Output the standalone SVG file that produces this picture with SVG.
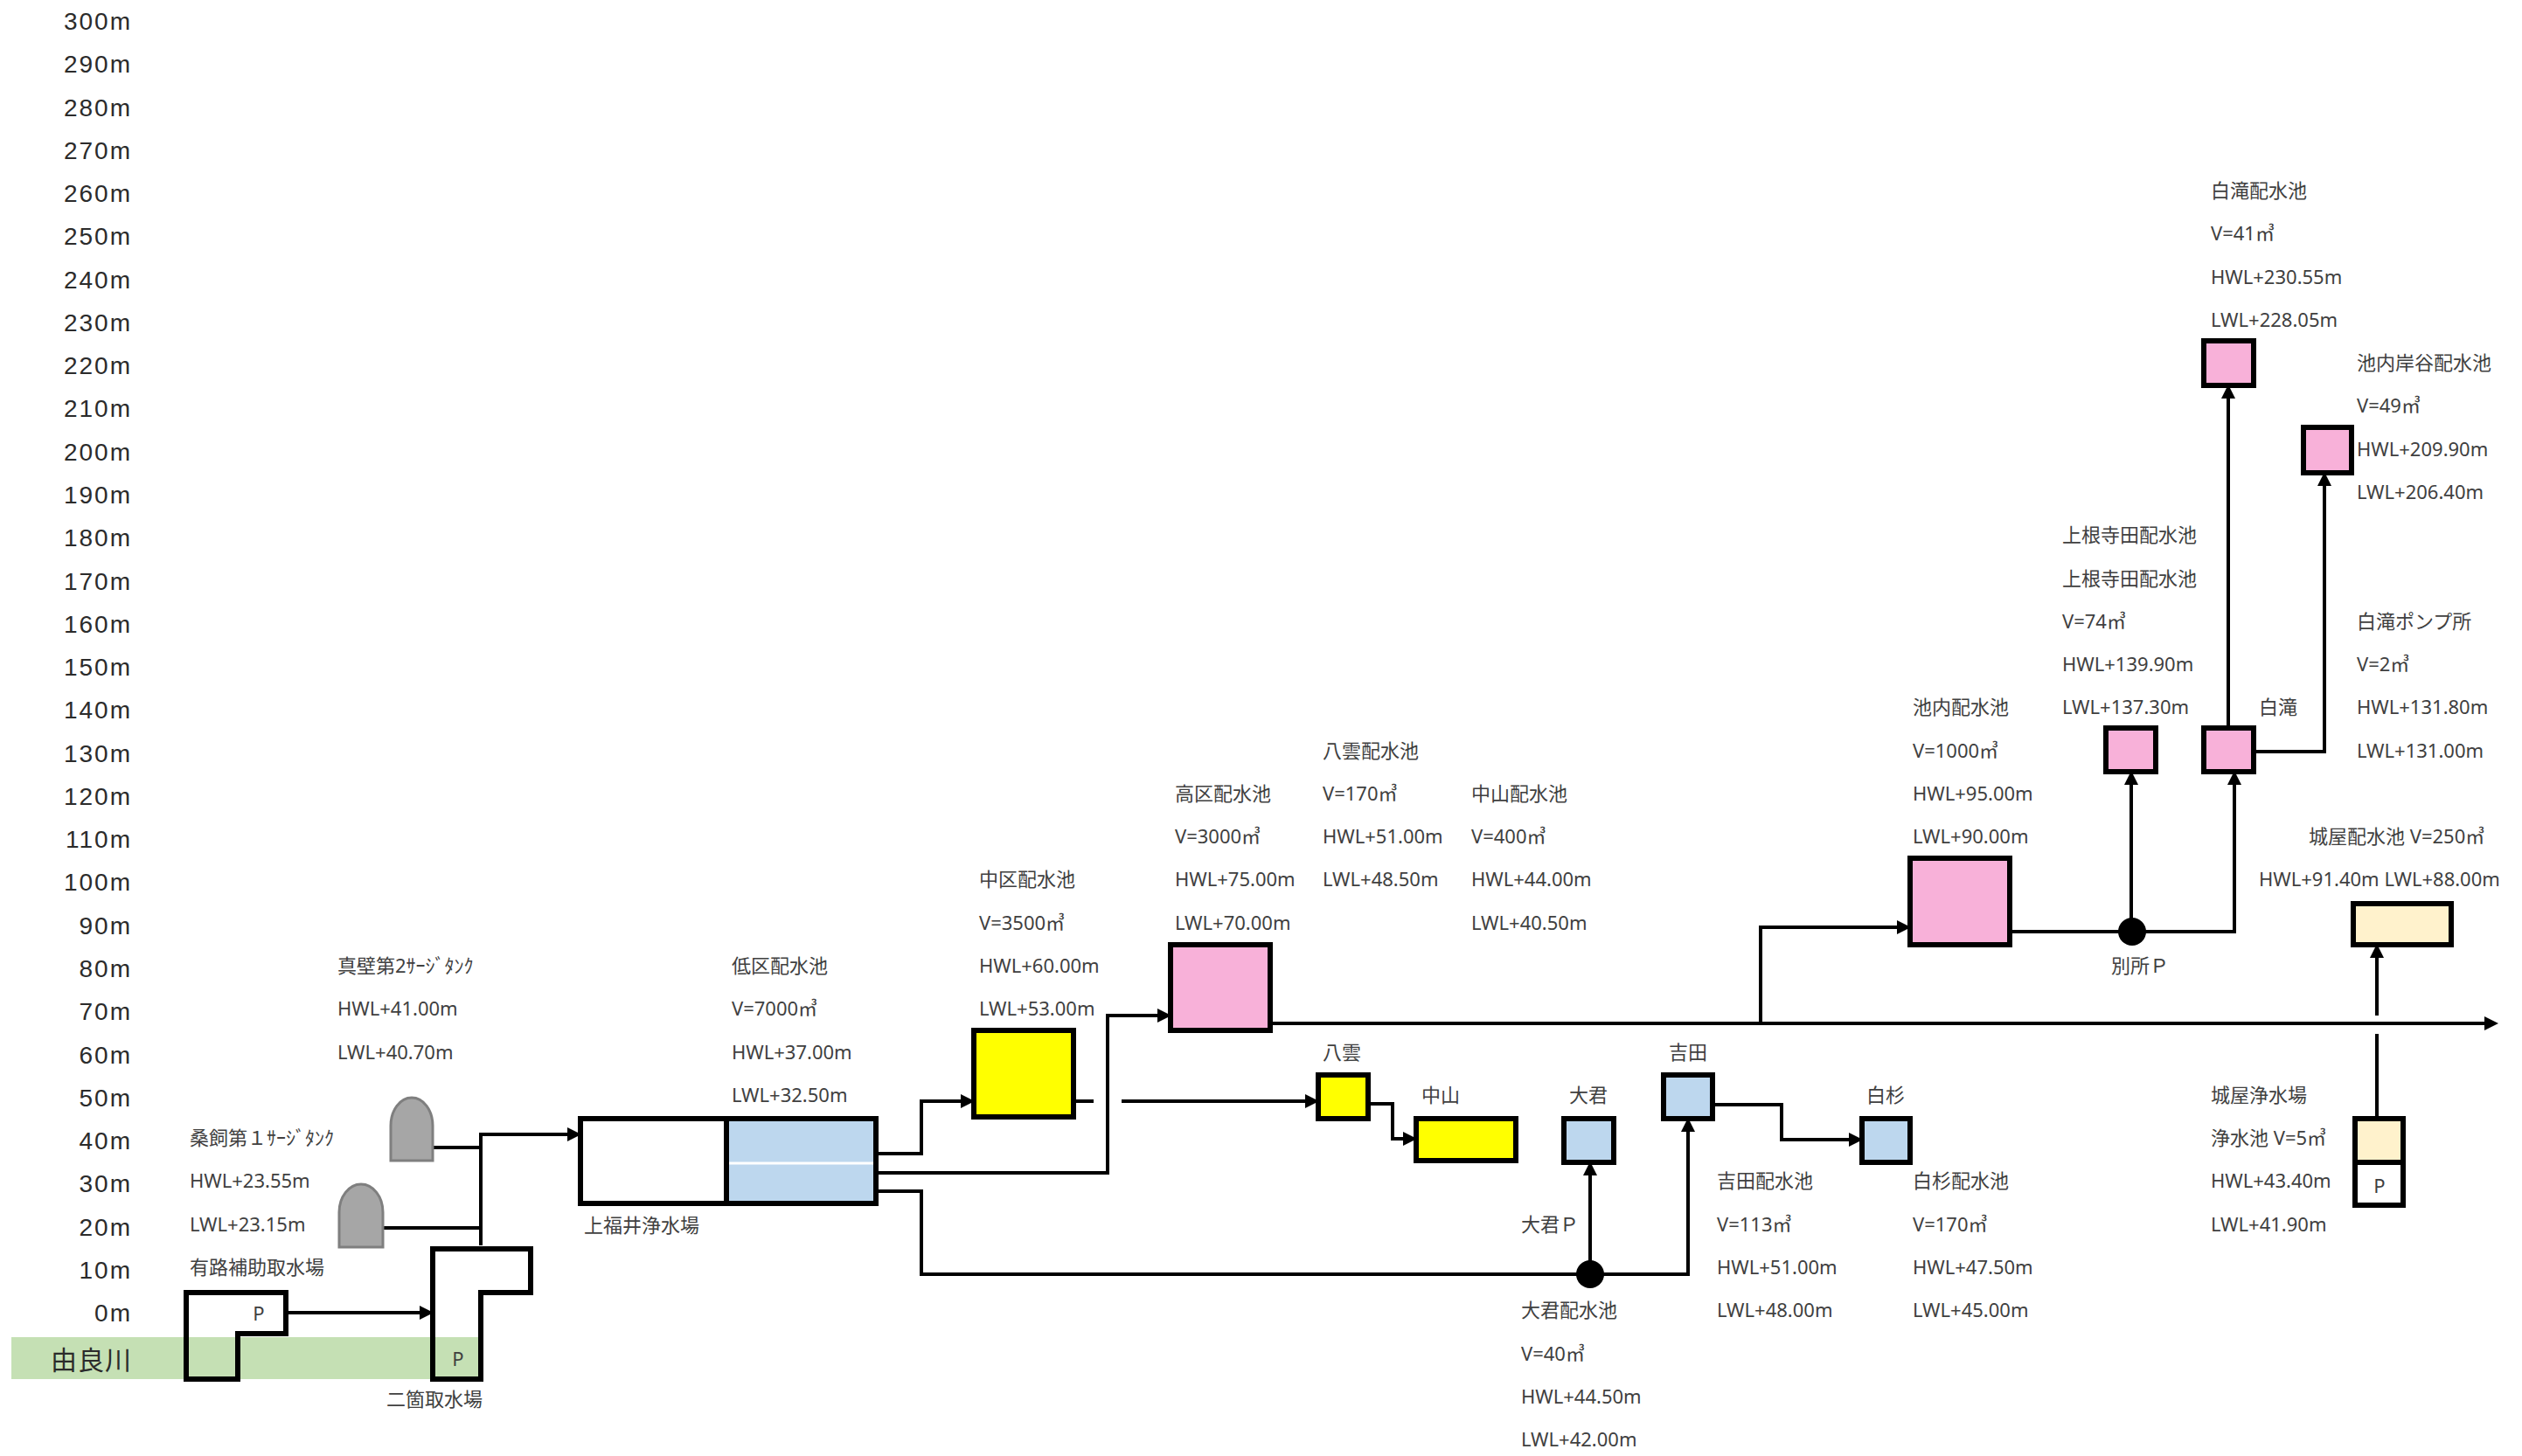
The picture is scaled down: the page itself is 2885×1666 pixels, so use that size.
<svg xmlns="http://www.w3.org/2000/svg" width="2885" height="1666" viewBox="0 0 2885 1666">
<style>
.ax{font-family:"Liberation Sans","Noto Sans",sans-serif;font-size:28px;fill:#2b2b2b;text-anchor:end;dominant-baseline:central;letter-spacing:2px}
.t{font-family:"Noto Sans","Noto Sans CJK JP",sans-serif;font-size:22px;fill:#404040;dominant-baseline:central}
.c{text-anchor:middle}
.bx{stroke:#000;stroke-width:6}
.pk{fill:#F8B1D9}.ye{fill:#FFFF00}.bl{fill:#BDD7EE}.cr{fill:#FFF2CC}.wh{fill:#FFFFFF}
.tank{fill:#A6A6A6;stroke:#7F7F7F;stroke-width:3}
.ln{fill:none;stroke:#000;stroke-width:4}
.ar{marker-end:url(#ah)}
</style>
<defs>
<marker id="ah" viewBox="0 0 10 10" refX="7.5" refY="5" markerWidth="16" markerHeight="16" markerUnits="userSpaceOnUse" orient="auto"><path d="M0,0L10,5L0,10z" fill="#000"/></marker>
</defs>
<rect width="2885" height="1666" fill="#FFFFFF"/>
<g id="axis">
<text class="ax" x="151" y="24">300m</text>
<text class="ax" x="151" y="73">290m</text>
<text class="ax" x="151" y="123">280m</text>
<text class="ax" x="151" y="172">270m</text>
<text class="ax" x="151" y="221">260m</text>
<text class="ax" x="151" y="270">250m</text>
<text class="ax" x="151" y="320">240m</text>
<text class="ax" x="151" y="369">230m</text>
<text class="ax" x="151" y="418">220m</text>
<text class="ax" x="151" y="467">210m</text>
<text class="ax" x="151" y="517">200m</text>
<text class="ax" x="151" y="566">190m</text>
<text class="ax" x="151" y="615">180m</text>
<text class="ax" x="151" y="665">170m</text>
<text class="ax" x="151" y="714">160m</text>
<text class="ax" x="151" y="763">150m</text>
<text class="ax" x="151" y="812">140m</text>
<text class="ax" x="151" y="862">130m</text>
<text class="ax" x="151" y="911">120m</text>
<text class="ax" x="151" y="960">110m</text>
<text class="ax" x="151" y="1009">100m</text>
<text class="ax" x="151" y="1059">90m</text>
<text class="ax" x="151" y="1108">80m</text>
<text class="ax" x="151" y="1157">70m</text>
<text class="ax" x="151" y="1207">60m</text>
<text class="ax" x="151" y="1256">50m</text>
<text class="ax" x="151" y="1305">40m</text>
<text class="ax" x="151" y="1354">30m</text>
<text class="ax" x="151" y="1404">20m</text>
<text class="ax" x="151" y="1453">10m</text>
<text class="ax" x="151" y="1502">0m</text>
</g>
<g id="river">
<rect x="13" y="1530" width="539" height="48" fill="#C5E0B4"/>
<text class="ax" x="151" y="1554" style="font-family:'Noto Sans CJK JP',sans-serif;font-size:30px;letter-spacing:1px">由良川</text>
</g>
<g id="connectors">
<path class="ln ar" d="M330,1502H492"/>
<path class="ln" d="M495,1313H550"/>
<path class="ln" d="M438,1405H550"/>
<path class="ln ar" d="M550,1425V1298H661"/>
<path class="ln ar" d="M1005,1320H1054V1260H1111"/>
<path class="ln ar" d="M1005,1342H1267V1162H1336"/>
<path class="ln ar" d="M1005,1363H1054V1458H1931V1283"/>
<path class="ln ar" d="M1819,1458V1333"/>
<path class="ln" d="M1231,1260H1251"/>
<path class="ln ar" d="M1283,1260H1505"/>
<path class="ln ar" d="M1568,1263H1593V1303H1617"/>
<path class="ln ar" d="M1962,1264H2038V1304H2127"/>
<path class="ln ar" d="M1456,1171H2854"/>
<path class="ln ar" d="M2014,1171V1061H2182"/>
<path class="ln ar" d="M2302,1066H2556V886"/>
<path class="ln ar" d="M2438,1066V886"/>
<path class="ln ar" d="M2549,830V444"/>
<path class="ln ar" d="M2581,860H2659V544"/>
<path class="ln" d="M2719,1277V1183"/>
<path class="ln ar" d="M2719,1162V1084"/>
<circle cx="1819" cy="1458" r="16" fill="#000"/>
<circle cx="2439" cy="1066" r="16" fill="#000"/>
</g>
<g id="ari">
<path class="bx" fill="none" d="M213,1479H327V1526H272V1578H213Z"/>
<text class="t c" x="296" y="1502">P</text>
<text class="t" x="217" y="1449">有路補助取水場</text>
</g>
<g id="nika">
<path class="bx" fill="none" d="M495,1429H607V1479H550V1578H495Z"/>
<text class="t c" x="524" y="1554">P</text>
<text class="t c" x="497" y="1600">二箇取水場</text>
</g>
<g id="kuwagai">
<path class="tank" d="M388,1427V1387A25,32 0 0 1 438,1387V1427Z"/>
<text class="t" x="217" y="1301">桑飼第１ｻｰｼﾞﾀﾝｸ</text>
<text class="t" x="217" y="1350">HWL+23.55m</text>
<text class="t" x="217" y="1400">LWL+23.15m</text>
</g>
<g id="makabe">
<path class="tank" d="M447,1328V1288A24,32 0 0 1 495,1288V1328Z"/>
<text class="t" x="386" y="1104">真壁第2ｻｰｼﾞﾀﾝｸ</text>
<text class="t" x="386" y="1153">HWL+41.00m</text>
<text class="t" x="386" y="1203">LWL+40.70m</text>
</g>
<g id="kamifukui">
<rect x="664" y="1280" width="338" height="97" class="wh"/>
<rect x="831" y="1280" width="171" height="97" class="bl"/>
<line x1="834" y1="1331" x2="999" y2="1331" stroke="#FFFFFF" stroke-width="3"/>
<line x1="831" y1="1280" x2="831" y2="1377" stroke="#000" stroke-width="6"/>
<rect x="664" y="1280" width="338" height="97" class="bx" fill="none"/>
<text class="t" x="668" y="1401">上福井浄水場</text>
<text class="t" x="837" y="1104">低区配水池</text>
<text class="t" x="837" y="1153">V=7000㎥</text>
<text class="t" x="837" y="1203">HWL+37.00m</text>
<text class="t" x="837" y="1252">LWL+32.50m</text>
</g>
<g id="chuku">
<rect x="1114" y="1179" width="114" height="99" class="bx ye"/>
<text class="t" x="1120" y="1005">中区配水池</text>
<text class="t" x="1120" y="1055">V=3500㎥</text>
<text class="t" x="1120" y="1104">HWL+60.00m</text>
<text class="t" x="1120" y="1153">LWL+53.00m</text>
</g>
<g id="kouku">
<rect x="1339" y="1081" width="114" height="98" class="bx pk"/>
<text class="t" x="1344" y="907">高区配水池</text>
<text class="t" x="1344" y="956">V=3000㎥</text>
<text class="t" x="1344" y="1005">HWL+75.00m</text>
<text class="t" x="1344" y="1055">LWL+70.00m</text>
</g>
<g id="yakumo">
<rect x="1508" y="1230" width="57" height="50" class="bx ye"/>
<text class="t" x="1513" y="1203">八雲</text>
<text class="t" x="1513" y="858">八雲配水池</text>
<text class="t" x="1513" y="907">V=170㎥</text>
<text class="t" x="1513" y="956">HWL+51.00m</text>
<text class="t" x="1513" y="1005">LWL+48.50m</text>
</g>
<g id="nakayama">
<rect x="1620" y="1280" width="114" height="48" class="bx ye"/>
<text class="t" x="1626" y="1252">中山</text>
<text class="t" x="1683" y="907">中山配水池</text>
<text class="t" x="1683" y="956">V=400㎥</text>
<text class="t" x="1683" y="1005">HWL+44.00m</text>
<text class="t" x="1683" y="1055">LWL+40.50m</text>
</g>
<g id="ogimi">
<rect x="1789" y="1280" width="57" height="50" class="bx bl"/>
<text class="t" x="1795" y="1252">大君</text>
<text class="t" x="1740" y="1400">大君Ｐ</text>
<text class="t" x="1740" y="1498">大君配水池</text>
<text class="t" x="1740" y="1548">V=40㎥</text>
<text class="t" x="1740" y="1597">HWL+44.50m</text>
<text class="t" x="1740" y="1646">LWL+42.00m</text>
</g>
<g id="yoshida">
<rect x="1903" y="1230" width="56" height="50" class="bx bl"/>
<text class="t" x="1909" y="1203">吉田</text>
<text class="t" x="1964" y="1350">吉田配水池</text>
<text class="t" x="1964" y="1400">V=113㎥</text>
<text class="t" x="1964" y="1449">HWL+51.00m</text>
<text class="t" x="1964" y="1498">LWL+48.00m</text>
</g>
<g id="shirasugi">
<rect x="2130" y="1280" width="55" height="50" class="bx bl"/>
<text class="t" x="2135" y="1252">白杉</text>
<text class="t" x="2188" y="1350">白杉配水池</text>
<text class="t" x="2188" y="1400">V=170㎥</text>
<text class="t" x="2188" y="1449">HWL+47.50m</text>
<text class="t" x="2188" y="1498">LWL+45.00m</text>
</g>
<g id="ikeuchi">
<rect x="2185" y="982" width="114" height="99" class="bx pk"/>
<text class="t" x="2188" y="808">池内配水池</text>
<text class="t" x="2188" y="858">V=1000㎥</text>
<text class="t" x="2188" y="907">HWL+95.00m</text>
<text class="t" x="2188" y="956">LWL+90.00m</text>
</g>
<g id="bessho">
<text class="t" x="2415" y="1104">別所Ｐ</text>
</g>
<g id="kaminejida">
<rect x="2409" y="833" width="57" height="50" class="bx pk"/>
<text class="t" x="2359" y="611">上根寺田配水池</text>
<text class="t" x="2359" y="661">上根寺田配水池</text>
<text class="t" x="2359" y="710">V=74㎥</text>
<text class="t" x="2359" y="759">HWL+139.90m</text>
<text class="t" x="2359" y="808">LWL+137.30m</text>
</g>
<g id="shirataki">
<rect x="2521" y="833" width="57" height="50" class="bx pk"/>
<text class="t" x="2584" y="808">白滝</text>
<text class="t" x="2696" y="710">白滝ポンプ所</text>
<text class="t" x="2696" y="759">V=2㎥</text>
<text class="t" x="2696" y="808">HWL+131.80m</text>
<text class="t" x="2696" y="858">LWL+131.00m</text>
</g>
<g id="shirataki-haisuichi">
<rect x="2521" y="390" width="57" height="51" class="bx pk"/>
<text class="t" x="2529" y="217">白滝配水池</text>
<text class="t" x="2529" y="266">V=41㎥</text>
<text class="t" x="2529" y="316">HWL+230.55m</text>
<text class="t" x="2529" y="365">LWL+228.05m</text>
</g>
<g id="ikeuchi-kishidani">
<rect x="2635" y="489" width="55" height="52" class="bx pk"/>
<text class="t" x="2696" y="414">池内岸谷配水池</text>
<text class="t" x="2696" y="463">V=49㎥</text>
<text class="t" x="2696" y="513">HWL+209.90m</text>
<text class="t" x="2696" y="562">LWL+206.40m</text>
</g>
<g id="joya-haisuichi">
<rect x="2692" y="1034" width="112" height="47" class="bx cr"/>
<text class="t" x="2641" y="956">城屋配水池 V=250㎥</text>
<text class="t" x="2584" y="1005">HWL+91.40m LWL+88.00m</text>
</g>
<g id="joya-josuijo">
<rect x="2694" y="1280" width="55" height="50" class="cr"/>
<rect x="2694" y="1330" width="55" height="49" class="wh"/>
<line x1="2694" y1="1330" x2="2749" y2="1330" stroke="#000" stroke-width="6"/>
<rect x="2694" y="1280" width="55" height="99" class="bx" fill="none"/>
<text class="t c" x="2722" y="1356">P</text>
<text class="t" x="2529" y="1252">城屋浄水場</text>
<text class="t" x="2529" y="1301">浄水池 V=5㎥</text>
<text class="t" x="2529" y="1350">HWL+43.40m</text>
<text class="t" x="2529" y="1400">LWL+41.90m</text>
</g>
</svg>
